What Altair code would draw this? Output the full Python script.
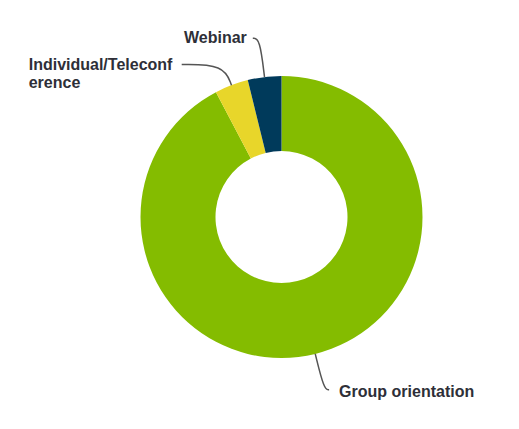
import math
import altair as alt
import pandas as pd

# ---- data ----
categories = ["Group orientation", "Individual/Teleconference", "Webinar"]
counts = [24, 1, 1]
colors = ["#84bc00", "#e8d62a", "#003a5b"]
label_lines = ["Group orientation", "Individual/Teleconf\nerence", "Webinar"]

# ---- layout (pixels, styles) ----
W, H = 503, 413
CX, CY = 273.5, 209
R_OUT, R_IN = 141, 66
elbow_r = [178, 163, 180]       # radius of leader-line elbow
end_dx = [5, -42, -7]            # horizontal run after elbow
label_side = ["left", "left", "right"]
label_dx = [10, -153, -6]
label_dy = [7, 5, 5]
FONT = "Liberation Sans"
FONT_SIZE = 16
TEXT_COLOR = "#2e2f38"

total = sum(counts)
arc_df = pd.DataFrame({"category": categories, "count": counts, "idx": range(len(categories))})

line_rows, text_rows = [], []
cum = 0
for i, c in enumerate(categories):
    mid = (cum + counts[i] / 2) / total * 2 * math.pi
    cum += counts[i]
    p0 = (CX + R_OUT * math.sin(mid), CY - R_OUT * math.cos(mid))
    p1 = (CX + elbow_r[i] * math.sin(mid), CY - elbow_r[i] * math.cos(mid))
    p2 = (p1[0] + end_dx[i], p1[1])
    for s, p in enumerate([p0, p1, p2]):
        line_rows.append({"category": c, "seq": s, "px": p[0], "py": p[1]})
    text_rows.append({"category": c, "label": label_lines[i], "side": label_side[i],
                      "tx": p2[0] + label_dx[i], "ty": p2[1] + label_dy[i]})

line_df = pd.DataFrame(line_rows)
text_df = pd.DataFrame(text_rows)

arcs = alt.Chart(arc_df).mark_arc(outerRadius=R_OUT, innerRadius=R_IN).encode(
    theta=alt.Theta("count:Q", stack=True),
    color=alt.Color("category:N", scale=alt.Scale(domain=categories, range=colors), legend=None),
    order=alt.Order("idx:Q"),
    x=alt.value(CX),
    y=alt.value(CY),
)

leaders = alt.Chart(line_df).mark_line(interpolate="basis", color="#555555", strokeWidth=1.5).encode(
    x=alt.X("px:Q", scale=None, axis=None),
    y=alt.Y("py:Q", scale=None, axis=None),
    detail="category:N",
    order="seq:Q",
)

def text_layer(side):
    return alt.Chart(text_df).transform_filter(alt.datum.side == side).mark_text(
        align=side, baseline="alphabetic", font=FONT, fontSize=FONT_SIZE, fontWeight="bold",
        color=TEXT_COLOR, lineBreak="\n", lineHeight=18,
    ).encode(
        x=alt.X("tx:Q", scale=None, axis=None),
        y=alt.Y("ty:Q", scale=None, axis=None),
        text="label:N",
    )

chart = alt.layer(arcs, leaders, text_layer("left"), text_layer("right")).properties(
    width=W, height=H, padding=0, autosize=alt.AutoSizeParams(type="none"),
).configure_view(stroke=None)

chart.save("out.html", embed_options={"renderer": "svg", "actions": False})
